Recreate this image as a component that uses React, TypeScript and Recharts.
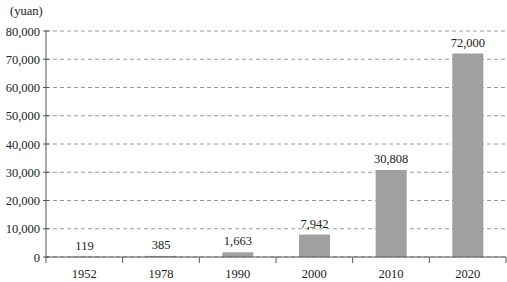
import { BarChart, Bar, XAxis, YAxis, CartesianGrid, LabelList } from "recharts";

const years = ["1952", "1978", "1990", "2000", "2010", "2020"];
const income = [119, 385, 1663, 7942, 30808, 72000];
const yTicks = [0, 10000, 20000, 30000, 40000, 50000, 60000, 70000, 80000];

const W = 507;
const H = 282;
const FONT = '"Liberation Serif", "Times New Roman", serif';
const AXIS = "#555";
const TEXT = "#222";

const margin = { top: 31, right: 1, bottom: 0, left: 0 };
const yAxisWidth = 46;
const band = (W - margin.left - margin.right - yAxisWidth) / years.length;

const fmt = (v: number) => v.toLocaleString("en-US");

// category ticks sit on the boundaries between bars, labels in the middle
const YearTick = (props: any) => {
  const { x, y, payload, index } = props;
  const left = x - band / 2;
  return (
    <g>
      <line x1={left} y1={y} x2={left} y2={y + 6} stroke={AXIS} />
      {index === years.length - 1 && (
        <line x1={x + band / 2} y1={y} x2={x + band / 2} y2={y + 6} stroke={AXIS} />
      )}
      <text x={x} y={y + 21} textAnchor="middle" fontFamily={FONT} fontSize={12.5} fill={TEXT}>
        {payload.value}
      </text>
    </g>
  );
};

// small tick crossing the axis line, label to its left
const ValueTick = (props: any) => {
  const { x, y, payload } = props;
  return (
    <g>
      <line x1={x - 3} y1={y} x2={x + 3} y2={y} stroke={AXIS} />
      <text x={x - 6} y={y + 4.5} textAnchor="end" fontFamily={FONT} fontSize={12.5} fill={TEXT}>
        {fmt(payload.value)}
      </text>
    </g>
  );
};

export default function App() {
  const data = years.map((year, i) => ({ year, value: income[i] }));

  return (
    <div style={{ position: "absolute", left: 0, top: 0, width: W, height: H, background: "#fff" }}>
      <div
        style={{
          position: "absolute",
          left: 10,
          top: 4,
          fontFamily: FONT,
          fontSize: 12.5,
          color: TEXT,
        }}
      >
        (yuan)
      </div>
      <BarChart width={W} height={H} data={data} margin={margin}>
        <CartesianGrid vertical={false} stroke="#9a9a9a" strokeDasharray="4 3" />
        <XAxis
          dataKey="year"
          height={25}
          stroke={AXIS}
          tickLine={false}
          tickSize={0}
          tickMargin={0}
          tick={<YearTick />}
          interval={0}
        />
        <YAxis
          width={yAxisWidth}
          domain={[0, 80000]}
          ticks={yTicks}
          interval={0}
          stroke={AXIS}
          tickLine={false}
          tickSize={0}
          tickMargin={0}
          tick={<ValueTick />}
        />
        <Bar dataKey="value" fill="#a0a0a0" barSize={31} isAnimationActive={false}>
          <LabelList
            dataKey="value"
            position="top"
            offset={7}
            formatter={(v: any) => fmt(Number(v))}
            style={{ fontFamily: FONT, fontSize: 12.5, fill: TEXT }}
          />
        </Bar>
      </BarChart>
    </div>
  );
}
